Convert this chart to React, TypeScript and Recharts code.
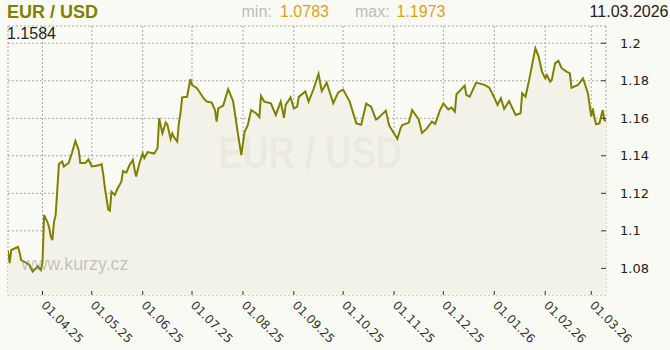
import React from "react";
import { AreaChart, Area, XAxis, YAxis, CartesianGrid } from "recharts";

// day offsets from 11.03.2025 and EUR/USD closing rates
const DAYS = [
  0, 1, 2, 6, 7, 8, 11, 13, 15, 17, 18, 20, 21, 22, 24, 25, 26, 27, 28, 29,
  30, 31, 33, 34, 37, 39, 41, 43, 44, 47, 49, 51, 56, 57, 58, 59, 61, 62, 63, 65,
  67, 69, 70, 72, 74, 76, 77, 78, 80, 82, 83, 85, 89, 91, 92, 94, 96, 97, 99, 100,
  101, 103, 104, 105, 106, 109, 111, 112, 115, 117, 119, 121, 124, 126, 127, 128, 131, 134, 137, 138,
  140, 142, 144, 146, 148, 151, 153, 154, 156, 160, 163, 166, 168, 169, 172, 174, 176, 177, 181, 183,
  186, 189, 191, 194, 198, 201, 204, 208, 212, 215, 218, 221, 224, 225, 230, 232, 237, 239, 240, 244,
  246, 250, 252, 255, 258, 260, 263, 265, 268, 270, 272, 273, 278, 279, 281, 285, 290, 293, 296, 298,
  300, 302, 305, 309, 312, 313, 315, 317, 320, 321, 323, 325, 327, 328, 330, 331, 333, 335, 337, 340,
  342, 343, 347, 350, 351, 353, 355, 356, 357, 358, 360, 362, 363, 364,
];
const RATES = [
  1.0895, 1.0828, 1.0898, 1.0914, 1.0887, 1.0844, 1.083, 1.0818, 1.0783, 1.08, 1.0812, 1.0791, 1.0834, 1.1084, 1.1047, 1.102, 1.0972, 1.0951, 1.1047, 1.1084,
  1.1218, 1.1356, 1.137, 1.1343, 1.1363, 1.1418, 1.1479, 1.1431, 1.1362, 1.1362, 1.138, 1.1343, 1.1351, 1.1356, 1.1298, 1.1228, 1.1114, 1.1108, 1.1209, 1.1191,
  1.1231, 1.1262, 1.1319, 1.131, 1.1351, 1.1378, 1.133, 1.129, 1.1362, 1.1412, 1.1388, 1.142, 1.1412, 1.144, 1.16, 1.152, 1.1577, 1.1567, 1.149, 1.152,
  1.15, 1.1476, 1.1573, 1.1627, 1.1712, 1.1715, 1.1808, 1.1778, 1.176, 1.1735, 1.1707, 1.1689, 1.1684, 1.1644, 1.1582, 1.1653, 1.1668, 1.1755, 1.1692, 1.1634,
  1.1516, 1.1404, 1.1527, 1.1564, 1.1644, 1.1627, 1.1607, 1.1719, 1.1689, 1.168, 1.1618, 1.1689, 1.1602, 1.1671, 1.1711, 1.1652, 1.1662, 1.1714, 1.1743, 1.1689,
  1.1756, 1.1836, 1.1746, 1.179, 1.168, 1.1738, 1.1753, 1.1689, 1.1573, 1.1566, 1.1678, 1.1662, 1.1593, 1.1598, 1.1641, 1.1562, 1.1491, 1.1548, 1.1564, 1.1577,
  1.1644, 1.1594, 1.1522, 1.1546, 1.1582, 1.157, 1.1644, 1.1679, 1.1647, 1.1657, 1.1635, 1.1728, 1.1774, 1.1724, 1.1715, 1.179, 1.1778, 1.1763, 1.171, 1.1671,
  1.1707, 1.165, 1.1692, 1.1618, 1.1627, 1.1733, 1.1715, 1.1795, 1.1929, 1.1973, 1.1929, 1.1849, 1.1813, 1.1831, 1.1795, 1.1804, 1.1893, 1.1906, 1.1867, 1.1849,
  1.184, 1.1763, 1.1778, 1.1813, 1.1787, 1.1733, 1.1609, 1.1653, 1.16, 1.1568, 1.1573, 1.1644, 1.1591, 1.1584,
];

const MONTH_DAYS = [21, 51, 82, 112, 143, 174, 204, 235, 265, 296, 327, 355];
const MONTH_LABELS = [
  "01.04.25", "01.05.25", "01.06.25", "01.07.25", "01.08.25", "01.09.25",
  "01.10.25", "01.11.25", "01.12.25", "01.01.26", "01.02.26", "01.03.26",
];
const Y_TICKS = [1.08, 1.1, 1.12, 1.14, 1.16, 1.18, 1.2];

const PAIR = "EUR / USD";
const LAST_RATE = "1.1584";
const MIN_RATE = "1.0783";
const MAX_RATE = "1.1973";
const LAST_DATE = "11.03.2026";

const X_DOMAIN = [0, 364];
const Y_DOMAIN = [1.0658, 1.2092];

// first day of each month (March 2025 starts before the chart)
const MONTH_STARTS = [-10, ...MONTH_DAYS];
const inRange = (d: number) => d >= X_DOMAIN[0] && d <= X_DOMAIN[1];
const WEEK_TICKS = MONTH_STARTS.flatMap((m) => [m + 7, m + 14, m + 21]).filter(inRange);
const TOP_TICKS = [...MONTH_DAYS, ...MONTH_STARTS.flatMap((m) => [m + 10, m + 20])]
  .filter(inRange)
  .sort((a, b) => a - b);

const data = DAYS.map((day, i) => ({ day, rate: RATES[i] }));

const OLIVE = "#808000";
const GOLD = "#d9a21b";
const AXIS_FONT = "DejaVu Sans";
const HEAD_FONT = "Liberation Sans";

const MonthTick = ({ x, y, payload }: any) => {
  const i = MONTH_DAYS.indexOf(payload.value);
  const tx = x - 2;
  const ty = y + 11;
  return (
    <g>
      <line x1={x} x2={x} y1={y - 4} y2={y} stroke="#333" />
      <text
        x={tx}
        y={ty}
        transform={`rotate(45 ${tx} ${ty})`}
        fontSize={12}
        fontFamily={AXIS_FONT}
        fill="#333"
      >
        {MONTH_LABELS[i]}
      </text>
    </g>
  );
};

const WeekTick = ({ x, y }: any) => (
  <line x1={x} x2={x} y1={y - 2} y2={y} stroke="#333" />
);

const TopTick = ({ x, y }: any) => (
  <line x1={x} x2={x} y1={y} y2={y + 4} stroke="#333" />
);

const RateTick = ({ x, y, payload }: any) => (
  <g>
    <line x1={x - 5} x2={x} y1={y} y2={y} stroke="#333" />
    <text x={x + 14} y={y} dy="0.35em" fontSize={13} fontFamily={AXIS_FONT} fill="#222">
      {String(payload.value)}
    </text>
  </g>
);

export default function App() {
  return (
    <div
      style={{
        position: "absolute",
        left: 0,
        top: 0,
        width: 670,
        height: 350,
        background: "#fafaf5",
        overflow: "hidden",
      }}
    >
      <AreaChart
        width={670}
        height={350}
        data={data}
        margin={{ top: 26, right: 8, bottom: 8, left: 8 }}
      >
        <CartesianGrid stroke="#a8a8a8" strokeDasharray="2 2" />
        <XAxis
          xAxisId="week"
          dataKey="day"
          type="number"
          domain={X_DOMAIN}
          allowDataOverflow
          ticks={WEEK_TICKS}
          interval={0}
          height={0}
          tickSize={0}
          tickMargin={0}
          axisLine={false}
          tickLine={false}
          tick={<WeekTick />}
        />
        <XAxis
          dataKey="day"
          type="number"
          domain={X_DOMAIN}
          allowDataOverflow
          ticks={MONTH_DAYS}
          interval={0}
          height={47}
          tickSize={0}
          tickMargin={0}
          axisLine={false}
          tickLine={false}
          tick={<MonthTick />}
        />
        <XAxis
          xAxisId="top"
          orientation="top"
          dataKey="day"
          type="number"
          domain={X_DOMAIN}
          allowDataOverflow
          ticks={TOP_TICKS}
          interval={0}
          height={0}
          tickSize={0}
          tickMargin={0}
          axisLine={false}
          tickLine={false}
          tick={<TopTick />}
        />
        <YAxis
          orientation="right"
          type="number"
          domain={Y_DOMAIN}
          allowDataOverflow
          ticks={Y_TICKS}
          interval={0}
          width={56}
          tickSize={0}
          tickMargin={0}
          axisLine={false}
          tickLine={false}
          tick={<RateTick />}
        />
        <Area
          type="linear"
          dataKey="rate"
          stroke={OLIVE}
          strokeWidth={2}
          fill="#f2f2e9"
          fillOpacity={1}
          dot={false}
          activeDot={false}
          isAnimationActive={false}
        />
      </AreaChart>
      <svg
        width={670}
        height={350}
        style={{ position: "absolute", left: 0, top: 0, pointerEvents: "none" }}
      >
        <text
          x={218}
          y={168}
          fontFamily={HEAD_FONT}
          fontWeight="bold"
          fontSize={45}
          textLength={184}
          lengthAdjust="spacingAndGlyphs"
          fill="#000"
          fillOpacity={0.05}
        >
          {PAIR}
        </text>
        <text
          x={21.5}
          y={270}
          fontFamily={HEAD_FONT}
          fontSize={19}
          textLength={107}
          lengthAdjust="spacingAndGlyphs"
          fill="#888"
          fillOpacity={0.45}
        >
          www.kurzy.cz
        </text>
        <text x={7} y={18.3} fontFamily={HEAD_FONT} fontWeight="bold" fontSize={18} fill={OLIVE}>
          {PAIR}
        </text>
        <text x={7} y={39.3} fontFamily={HEAD_FONT} fontSize={16} fill="#222">
          {LAST_RATE}
        </text>
        <text y={17.3} fontFamily={HEAD_FONT} fontSize={16}>
          <tspan x={241.5} fill="#bbbbbb">min:</tspan>
          <tspan x={280} fill={GOLD}>{MIN_RATE}</tspan>
          <tspan x={355} fill="#bbbbbb">max:</tspan>
          <tspan x={396.5} fill={GOLD}>{MAX_RATE}</tspan>
        </text>
        <text x={668.5} y={17.3} textAnchor="end" fontFamily={HEAD_FONT} fontSize={16} fill="#222">
          {LAST_DATE}
        </text>
      </svg>
    </div>
  );
}
